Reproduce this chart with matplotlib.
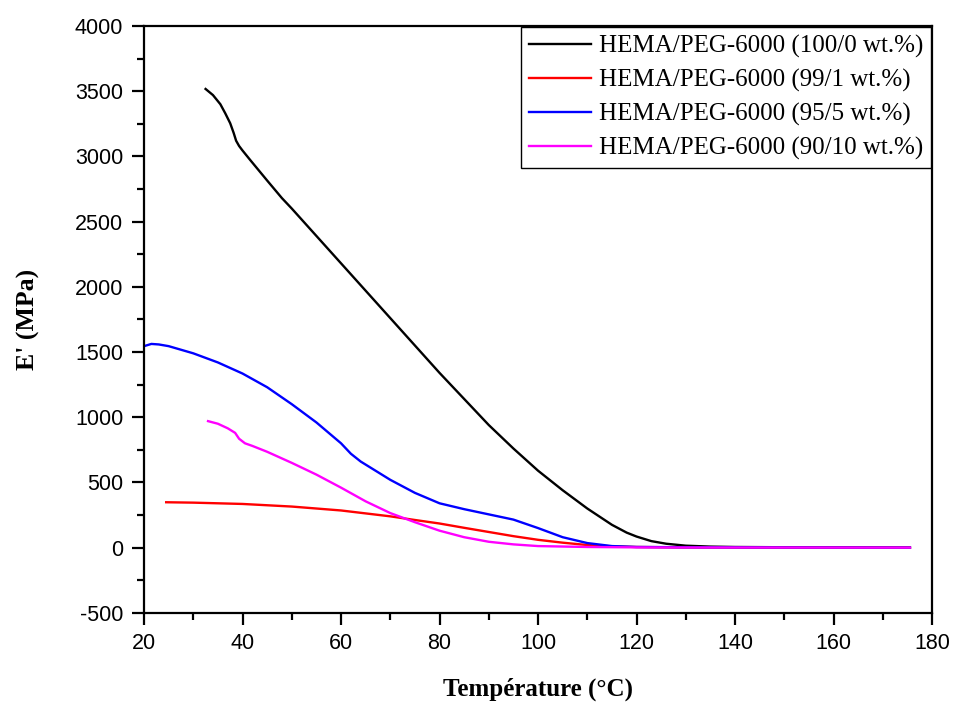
import numpy as np
import matplotlib.pyplot as plt
from matplotlib.ticker import MultipleLocator

plt.rcParams['axes.unicode_minus'] = False

# E' storage modulus vs temperature for the HEMA/PEG-6000 series
t_100 = [32.5, 34, 35.5, 36.5, 37.5, 38.2, 38.7, 39.3, 40, 41.5, 45, 48, 50, 55, 60, 65, 70, 75, 80,
         85, 90, 95, 100, 105, 110, 115, 118, 120, 123, 126, 130, 135, 140, 150, 160, 175.5]
e_100 = [3517, 3470, 3400, 3330, 3254, 3180, 3120, 3080, 3045, 2975, 2815, 2680, 2600, 2390, 2180,
         1970, 1760, 1550, 1340, 1140, 940, 760, 590, 440, 300, 175, 115, 85, 50, 30, 15, 8, 5, 3, 2, 0]

t_99 = [24.5, 30, 40, 50, 60, 70, 75, 80, 85, 90, 95, 100, 105, 110, 115, 120, 130, 140, 175.5]
e_99 = [348, 345, 335, 315, 285, 240, 212, 185, 152, 120, 88, 60, 38, 20, 10, 5, 2, 1, 0]

t_95 = [20, 21.5, 23, 25, 30, 35, 40, 45, 50, 55, 60, 62, 64, 67, 70, 75, 80, 85, 90, 95,
        100, 105, 110, 115, 120, 130, 140, 175.5]
e_95 = [1545, 1562, 1558, 1545, 1490, 1420, 1335, 1230, 1100, 960, 800, 720, 660, 590, 520, 420,
        340, 295, 255, 215, 150, 80, 35, 12, 5, 3, 2, 0]

t_90 = [33, 35, 37, 38.5, 39.3, 40.5, 42, 45, 50, 55, 60, 65, 70, 75, 80, 85, 90, 95, 100,
        110, 120, 140, 175.5]
e_90 = [970, 950, 915, 880, 835, 800, 780, 735, 650, 560, 460, 355, 265, 195, 130, 80, 45, 25, 12,
        5, 2, 1, 0]

labels = ["HEMA/PEG-6000 (100/0 wt.%)", "HEMA/PEG-6000 (99/1 wt.%)",
          "HEMA/PEG-6000 (95/5 wt.%)", "HEMA/PEG-6000 (90/10 wt.%)"]
colors = ["black", "red", "blue", "magenta"]

fig = plt.figure(figsize=(9.55, 7.02), dpi=100)
ax = fig.add_axes([0.1508, 0.127, 0.8252, 0.836])

series = [(t_100, e_100), (t_99, e_99), (t_95, e_95), (t_90, e_90)]
for (t, e), lab, c in zip(series, labels, colors):
    ax.plot(t, e, color=c, lw=1.7, label=lab)

ax.set_xlim(20, 180)
ax.set_ylim(-500, 4000)
ax.xaxis.set_major_locator(MultipleLocator(20))
ax.xaxis.set_minor_locator(MultipleLocator(10))
ax.yaxis.set_major_locator(MultipleLocator(500))
ax.yaxis.set_minor_locator(MultipleLocator(250))
ax.tick_params(which="both", direction="out", top=False, right=False, width=1.6)
ax.tick_params(which="major", length=8.5, labelsize=15.5)
ax.tick_params(which="minor", length=5)
ax.tick_params(axis="x", which="major", pad=6)
ax.tick_params(axis="y", which="major", pad=6.5)
for lbl in ax.get_xticklabels() + ax.get_yticklabels():
    lbl.set_family("Liberation Sans")
for s in ax.spines.values():
    s.set_linewidth(1.6)

ax.set_xlabel("Température (°C)", family="Liberation Serif", fontweight="bold", fontsize=18, labelpad=17)
ax.set_ylabel("E' (MPa)", family="Liberation Serif", fontweight="bold", fontsize=18.5, labelpad=25)

leg = ax.legend(loc="upper right", prop={"family": "Liberation Serif", "size": 18},
                frameon=True, fancybox=False, framealpha=1, borderaxespad=0.05, handlelength=2.5,
                handletextpad=0.3, labelspacing=0.44, borderpad=0.3)
leg.get_frame().set_edgecolor("black")
leg.get_frame().set_linewidth(1.0)

fig.savefig("out.png", dpi=100)
